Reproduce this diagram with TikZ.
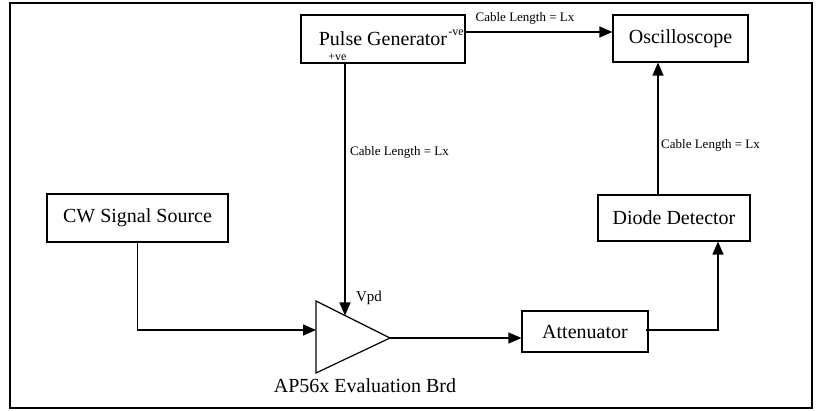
\documentclass[tikz,border=0pt]{standalone}
\usepackage{fontspec}
\setmainfont{Liberation Serif}
\newfontfamily\tnr{Liberation Serif}
\usetikzlibrary{arrows.meta,calc}
\begin{document}
\begin{tikzpicture}[x=1pt,y=-1pt,
  box/.style={draw,line width=1.2pt,inner sep=0pt,font=\tnr\fontsize{20}{22}\selectfont},
  conn/.style={line width=1.2pt,-{Triangle[length=13pt,width=11pt]}},
  small/.style={inner sep=0pt,font=\tnr\fontsize{13}{15}\selectfont},
  tiny/.style={inner sep=0pt,font=\tnr\fontsize{12}{14}\selectfont},
  mid/.style={inner sep=0pt,font=\tnr\fontsize{15}{17}\selectfont},
  big/.style={inner sep=0pt,font=\tnr\fontsize{20}{22}\selectfont}]
\useasboundingbox (0,0) rectangle (816,411);
\draw[line width=2.6pt] (10,3) rectangle (812,408);

% boxes
\node[box,minimum width=164pt,minimum height=48pt] (pg) at (383,39) {Pulse Generator\hspace{8pt}};
\node[box,minimum width=135pt,minimum height=47pt] (osc) at (680.5,38.5) {Oscilloscope\hspace{4pt}};
\node[box,minimum width=181pt,minimum height=48pt] (cw) at (137.5,218) {CW Signal Source};
\node[box,minimum width=152pt,minimum height=46pt] (dd) at (674,218) {Diode Detector};
\node[box,minimum width=126pt,minimum height=41pt] (att) at (585,331.5) {Attenuator\hspace{10pt}};

% amplifier
\coordinate (ampA) at (316,301);
\coordinate (ampTip) at (390,338);
\coordinate (ampB) at (316,373);
\draw[line width=1.2pt] (ampA) -- (ampTip) -- (ampB) -- cycle;
\coordinate (ampIn) at (316,330);
\coordinate (ampVpd) at (345,315.5);

% small labels
\node[tiny] (nve) at (456,33) {-ve};
\node[tiny] (pve) at (337.5,57.5) {+ve};
\coordinate (pveOut) at (345,64);
\node[mid] (vpd) at (369,298) {Vpd};
\node[big] (brd) at (365,386) {AP56x Evaluation Brd};

% connectors
\draw[conn] ([yshift=7pt]pg.east) -- ([yshift=7pt]pg.east -| osc.west);
\node[small] (cl1) at (525,18) {Cable Length = Lx};

\draw[conn] (pveOut) -- (ampVpd);
\node[small,anchor=west] (cl2) at (350,152) {Cable Length = Lx};

\draw[conn] (cw.south) |- (ampIn);
\draw[conn] (ampTip) -- (ampTip -| att.west);

\coordinate (attOut) at (646,330);
\draw[conn] (attOut) -| ([xshift=44pt]dd.south);

\draw[conn] ([xshift=-16pt]dd.north) -- ([xshift=-16pt]dd.north |- osc.south);
\node[small,anchor=west] (cl3) at (661,145) {Cable Length = Lx};
\end{tikzpicture}
\end{document}
